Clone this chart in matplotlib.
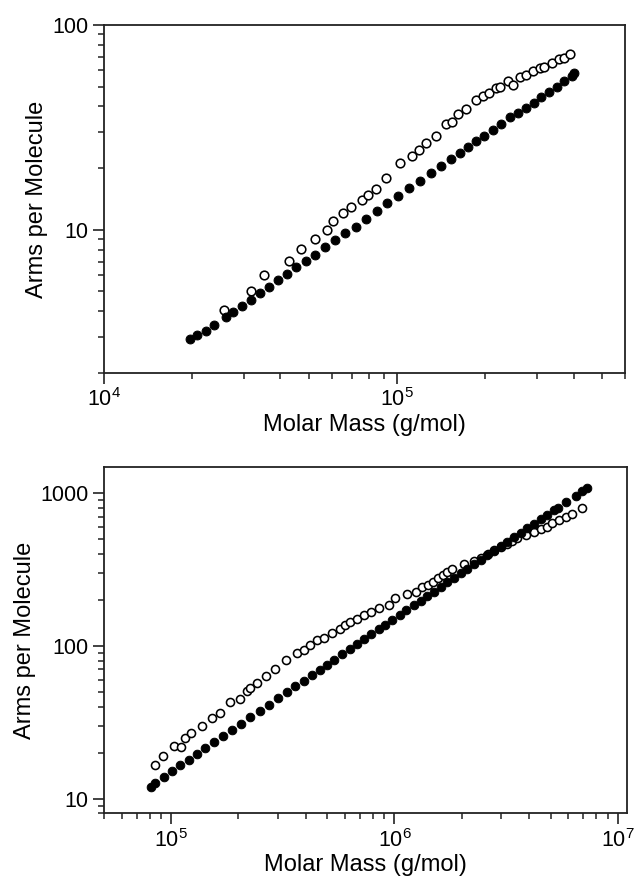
import matplotlib
matplotlib.use("Agg")
import matplotlib.pyplot as plt
from matplotlib.ticker import LogLocator, FuncFormatter, NullFormatter

plt.rcParams['font.family'] = ['Liberation Sans', 'DejaVu Sans']
plt.rcParams['mathtext.default'] = 'regular'

# ---- upper panel: lower molar-mass sample ----
top_filled_mass = [19690, 20850, 22320, 23830, 26100, 27640, 29670, 31750, 34070, 36550,
                   39220, 42190, 45410, 48850, 52710, 56810, 61440, 66650, 72250, 78560,
                   85370, 92620, 100630, 109700, 119900, 130700, 141700, 153200, 164100, 174700,
                   186000, 198500, 212500, 226100, 243300, 257600, 275200, 292000, 310000, 328300,
                   349500, 371300, 394400, 401600]
top_filled_arms = [2.92, 3.05, 3.22, 3.43, 3.76, 3.98, 4.26, 4.56, 4.89, 5.28,
                   5.67, 6.06, 6.61, 7.04, 7.53, 8.21, 8.92, 9.61, 10.36, 11.25,
                   12.31, 13.47, 14.62, 15.94, 17.31, 18.87, 20.49, 22.09, 23.63, 25.47,
                   27.14, 28.82, 30.71, 32.86, 35.42, 37.05, 39.49, 41.77, 44.68, 47.26,
                   50.0, 53.49, 56.36, 58.08]

top_open_mass = [25780, 31680, 35170, 42800, 47060, 52740, 57810, 60630, 65410, 69470,
                 75680, 79360, 84560, 91530, 102600, 112400, 119000, 125600, 135900, 147200,
                 154300, 161900, 172400, 185500, 195600, 205900, 217300, 224300, 238900, 248100,
                 262800, 275500, 290700, 307800, 317800, 336400, 354900, 369900, 387900]
top_open_arms = [4.07, 5.04, 6.03, 7.01, 8.05, 9.01, 10.0, 10.98, 12.06, 12.9,
                 14.0, 14.82, 15.79, 18.0, 21.14, 22.96, 24.56, 26.67, 28.73, 32.88,
                 33.77, 36.8, 38.92, 43.06, 45.05, 46.77, 49.11, 50.04, 53.33, 50.97,
                 55.55, 57.03, 59.86, 61.45, 62.6, 65.01, 68.0, 68.78, 71.93]

# ---- lower panel: higher molar-mass sample ----
bot_filled_mass = [81340, 84800, 92380, 100700, 109700, 119600, 130300, 142100, 155900, 170400,
                   187100, 205300, 226100, 248900, 273300, 300900, 330100, 359800, 392100, 427400,
                   462600, 499100, 538200, 582600, 630500, 680200, 733700, 786000, 850600, 911300,
                   976100, 1056500, 1131800, 1221000, 1308000, 1401000, 1501000, 1608000, 1723000, 1846000,
                   1977000, 2118000, 2269000, 2431000, 2604000, 2789000, 2988000, 3201000, 3429000, 3673000,
                   3935000, 4216000, 4516000, 4838000, 5183000, 5401000, 5846000, 6482000, 6944000, 7311000]
bot_filled_arms = [12.0, 12.6, 13.8, 15.1, 16.5, 18.0, 19.7, 21.5, 23.5, 25.7,
                   28.2, 31.0, 34.1, 37.6, 41.3, 45.4, 49.8, 54.3, 59.2, 64.5,
                   69.9, 75.4, 81.3, 88.0, 95.2, 102.8, 110.9, 118.7, 128.5, 137.7,
                   147.5, 159.6, 171.0, 184.4, 197.6, 211.5, 226.6, 242.8, 259.9, 278.5,
                   297.9, 318.9, 341.3, 365.4, 391.1, 418.3, 447.6, 478.9, 512.3, 547.9,
                   586.2, 627.5, 671.4, 718.6, 769.1, 801.0, 866.1, 958.7, 1025.0, 1078.0]

bot_open_mass = [84800, 91750, 102400, 110500, 114800, 122500, 137300, 152200, 165800, 183900,
                 203900, 218500, 226100, 242200, 266700, 292600, 327900, 366000, 392100, 420100,
                 450000, 482100, 525500, 568800, 598900, 634900, 680200, 728600, 786000, 850600,
                 943200, 1010000, 1140000, 1242000, 1331000, 1411000, 1491000, 1564000, 1653000, 1723000,
                 1814000, 2046000, 2269000, 2431000, 2621000, 2789000, 2988000, 3178000, 3370000, 3549000,
                 3867000, 4216000, 4516000, 4838000, 5094000, 5457000, 5846000, 6262000, 6944000]
bot_open_arms = [16.7, 19.1, 22.0, 21.7, 24.9, 26.9, 29.7, 33.7, 36.3, 42.6,
                 44.8, 50.3, 52.9, 57.0, 63.7, 70.7, 80.2, 89.6, 94.2, 101.5,
                 108.4, 112.2, 121.0, 128.5, 137.2, 142.8, 150.2, 157.9, 166.0, 176.3,
                 185.4, 204.9, 217.7, 226.6, 241.8, 250.5, 263.4, 276.9, 291.1, 306.1,
                 317.0, 343.6, 361.2, 374.1, 399.4, 424.1, 445.9, 464.2, 488.0, 505.4,
                 531.6, 558.9, 578.8, 602.6, 633.5, 666.2, 700.5, 729.2, 793.6]

top_yticks = [10, 100]
bot_yticks = [10, 100, 1000]
x_label = "Molar Mass (g/mol)"
y_label = "Arms per Molecule"

fig = plt.figure(figsize=(6.35, 8.82), dpi=100)
ax1 = fig.add_axes([0.163, 0.5771, 0.822, 0.3946])
ax2 = fig.add_axes([0.1638, 0.0777, 0.8236, 0.3929])

spine_color = "#222222"
label_fs = 17
tick_fs = 15.5


def style(ax, yticks):
    ax.set_xscale('log')
    ax.set_yscale('log')
    for s in ax.spines.values():
        s.set_linewidth(1.3)
        s.set_color(spine_color)
    ax.xaxis.set_major_locator(LogLocator(base=10, numticks=20))
    ax.xaxis.set_minor_locator(LogLocator(base=10, subs=range(2, 10), numticks=20))
    ax.xaxis.set_minor_formatter(NullFormatter())
    ax.yaxis.set_major_locator(plt.FixedLocator(yticks))
    ax.yaxis.set_minor_locator(LogLocator(base=10, subs=range(2, 10), numticks=20))
    ax.yaxis.set_major_formatter(FuncFormatter(lambda v, p: f"{v:g}"))
    ax.yaxis.set_minor_formatter(NullFormatter())
    ax.tick_params(which='major', direction='out', length=8, width=1.2,
                   color=spine_color, labelsize=tick_fs, top=False, right=False, pad=3)
    ax.tick_params(which='minor', direction='out', length=4, width=1.1,
                   color=spine_color, top=False, right=False)
    ax.set_xlabel(x_label, fontsize=label_fs, labelpad=2)
    ax.set_ylabel(y_label, fontsize=label_fs, labelpad=3)


style(ax1, top_yticks)
ax1.plot(top_open_mass, top_open_arms, linestyle='none', marker='o', ms=6.2,
         mfc='white', mec='black', mew=1.15, zorder=3)
ax1.plot(top_filled_mass, top_filled_arms, linestyle='none', marker='o', ms=6.4,
         mfc='black', mec='black', mew=0.7, zorder=4)
ax1.set_xlim(1e4, 6e5)
ax1.set_ylim(2, 100)

style(ax2, bot_yticks)
ax2.plot(bot_open_mass, bot_open_arms, linestyle='none', marker='o', ms=5.8,
         mfc='white', mec='black', mew=1.15, zorder=3)
ax2.plot(bot_filled_mass, bot_filled_arms, linestyle='none', marker='o', ms=6.2,
         mfc='black', mec='black', mew=0.7, zorder=4)
ax2.set_xlim(5e4, 1.1e7)
ax2.set_ylim(8, 1480)

fig.savefig("out.png", dpi=100)
